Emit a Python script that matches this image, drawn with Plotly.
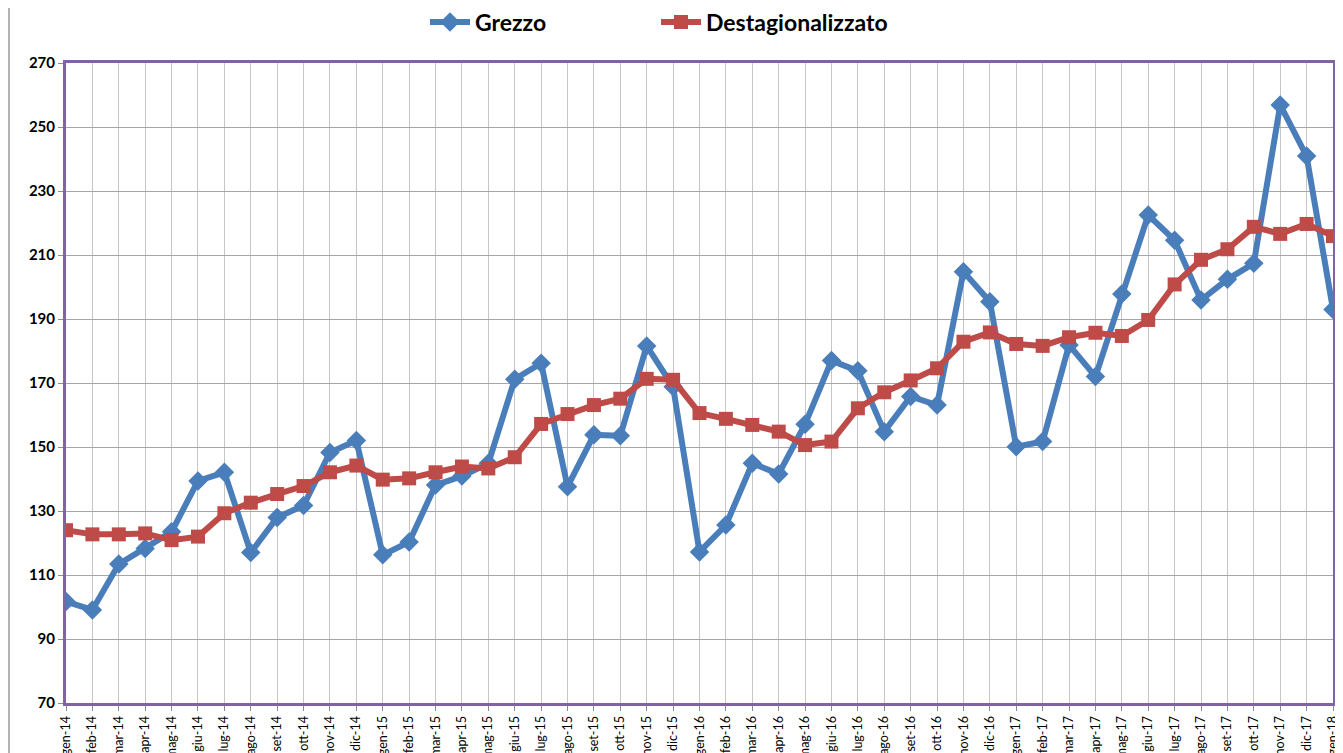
import plotly.graph_objects as go

months = ["gen", "feb", "mar", "apr", "mag", "giu", "lug", "ago", "set", "ott", "nov", "dic"]
categories = [f"{m}-{y}" for y in ["14", "15", "16", "17"] for m in months] + ["gen-18"]

grezzo = [101.7, 99.1, 113.4, 118.3, 123.5, 139.4, 142.1, 117.0, 128.0, 131.7, 148.3, 152.0,
          116.3, 120.3, 138.1, 140.9, 144.9, 171.2, 176.2, 137.6, 153.8, 153.5, 181.6, 168.8,
          117.2, 125.6, 144.9, 141.6, 157.1, 177.0, 173.8, 154.8, 165.8, 163.1, 204.8, 195.4,
          150.1, 151.7, 181.9, 172.0, 197.8, 222.5, 214.6, 195.9, 202.4, 207.4, 256.9, 240.9,
          193.0]
destag = [124.0, 122.7, 122.7, 123.0, 120.9, 122.0, 129.3, 132.6, 135.3, 137.8, 142.1, 144.2,
          139.8, 140.2, 142.1, 143.9, 143.3, 146.8, 157.2, 160.3, 163.1, 165.1, 171.3, 171.0,
          160.6, 158.8, 156.9, 154.8, 150.6, 151.7, 162.1, 167.1, 170.8, 174.6, 182.9, 185.8,
          182.2, 181.6, 184.3, 185.7, 184.7, 189.7, 200.8, 208.5, 211.8, 218.8, 216.6, 219.7,
          215.9]
y_ticks = [70, 90, 110, 130, 150, 170, 190, 210, 230, 250, 270]

FONT = "Lato, 'Liberation Sans', sans-serif"

# page body has an 8px margin; size the figure so it ends at the window edge
W, H = 1335, 745
L, R, T, B = 58, 10, 55, 50
pw, ph = W - L - R, H - T - B

fig = go.Figure()
fig.add_trace(go.Scatter(
    x=categories, y=grezzo, name="Grezzo", mode="lines+markers",
    line=dict(color="#4A7EBB", width=6),
    marker=dict(symbol="diamond", size=15, color="#4A7EBB"),
    legend="legend",
))
fig.add_trace(go.Scatter(
    x=categories, y=destag, name="Destagionalizzato", mode="lines+markers",
    line=dict(color="#BE4B48", width=6),
    marker=dict(symbol="square", size=14, color="#BE4B48"),
    legend="legend2",
))

leg_common = dict(
    orientation="h", xanchor="left", yanchor="middle",
    font=dict(family=FONT, size=23, color="black", weight="bold"),
    itemwidth=40, bgcolor="rgba(0,0,0,0)",
)
leg_y = (H - B - 14) / ph

fig.update_layout(
    width=W, height=H,
    margin=dict(l=L, r=R, t=T, b=B, autoexpand=False),
    paper_bgcolor="white", plot_bgcolor="white",
    font=dict(family=FONT, color="black"),
    showlegend=True,
    legend=dict(x=(417 - L) / pw, y=leg_y, **leg_common),
    legend2=dict(x=(648 - L) / pw, y=leg_y, **leg_common),
    xaxis=dict(
        type="category", categoryorder="array", categoryarray=categories,
        range=[0, len(categories) - 1],
        tickangle=-90, tickfont=dict(family=FONT, size=12.5, color="black"),
        showgrid=True, gridcolor="#C6C6C6", gridwidth=1,
        showline=True, linecolor="#8064A2", linewidth=3, mirror=True,
        ticks="outside", ticklen=5, tickcolor="#8C8C8C",
        automargin=False, zeroline=False,
    ),
    yaxis=dict(
        range=[70, 270], tickvals=y_ticks,
        tickfont=dict(family=FONT, size=15, color="black", weight="bold"),
        showgrid=True, gridcolor="#A6A6A6", gridwidth=1,
        showline=True, linecolor="#8064A2", linewidth=3, mirror=True,
        ticks="outside", ticklen=5, tickcolor="#8C8C8C",
        automargin=False, zeroline=False,
    ),
)

# outer chart border on the left
fig.add_shape(type="line", xref="paper", yref="paper",
              x0=(1 - L) / pw, x1=(1 - L) / pw,
              y0=-B / ph, y1=(H - B) / ph,
              line=dict(color="#9A9A9A", width=1.5), layer="below")

fig.write_html("out.html")
